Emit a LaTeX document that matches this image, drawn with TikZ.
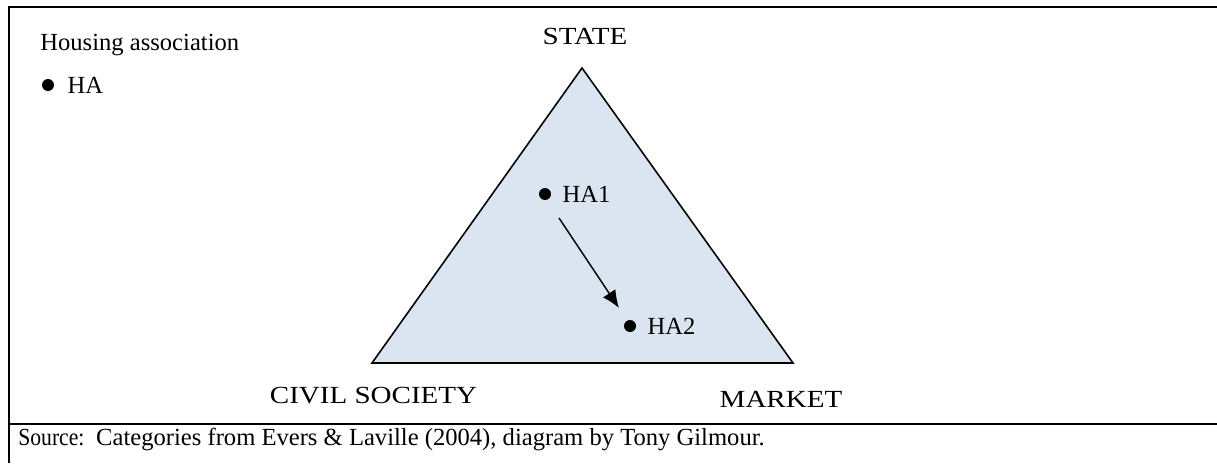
\documentclass[tikz,border=0pt]{standalone}
\usepackage{fontspec}
\setmainfont{Liberation Serif}
\newfontfamily\capsfont{Liberation Serif}[FakeStretch=1.18]
\newfontfamily\tagfont{Liberation Serif}[FakeStretch=0.88]
\usepackage{tikz}
\usetikzlibrary{positioning,arrows.meta,shapes}

\definecolor{triblue}{RGB}{219,229,241}

\tikzset{
    txt/.style={inner sep=0pt, font=\fontsize{14}{16}\selectfont},
    corner/.style={txt, font=\capsfont\fontsize{14}{16}\selectfont},
    tag/.style={txt, font=\tagfont\fontsize{14}{16}\selectfont},
    hadot/.style={circle, fill=black, inner sep=0pt, minimum size=0.24cm},
    frameline/.style={line width=1.4pt},
    flow/.style={line width=0.8pt, -{Latex[length=10pt,width=8.5pt]}}
}

\begin{document}
\begin{tikzpicture}
            \useasboundingbox (0,0) rectangle (24.34,9.26);
            \draw[frameline] (0.18,9.12) -- (24.34,9.12);
            \draw[frameline] (0.18,9.14) -- (0.18,0);
            \draw[frameline] (0.18,0.78) -- (24.34,0.78);
            \draw[fill=triblue, line width=0.9pt] (11.64,7.90) -- (7.44,2.00) -- (15.86,2.00) -- cycle;
            \node[corner, anchor=base] (state) at (11.70,8.36) {STATE};
            \node[corner, anchor=base] (civil) at (7.47,1.20) {CIVIL SOCIETY};
            \node[corner, anchor=base] (market) at (15.62,1.12) {MARKET};
            \node[txt, anchor=base west] (legend) at (0.80,8.24) {Housing association};
            \node[hadot] (ha) at (0.96,7.56) {};
            \node[txt, right=0.26cm of ha] (halabel) {HA};
            \node[hadot] (ha1) at (10.90,5.38) {};
            \node[txt, right=0.22cm of ha1] (ha1label) {HA1};
            \node[hadot] (ha2) at (12.60,2.74) {};
            \node[txt, right=0.22cm of ha2] (ha2label) {HA2};
            \coordinate (from) at ([shift={(0.28,-0.48)}]ha1.center);
            \coordinate (to) at ([shift={(-0.22,0.36)}]ha2.center);
            \draw[flow] (from) -- (to);
            \node[tag, anchor=base west] (source) at (0.36,0.36) {Source:};
            \node[txt, anchor=base west] (credit) at ([xshift=0.22cm]source.base east) {Categories from Evers \& Laville (2004), diagram by Tony Gilmour.};
        \end{tikzpicture}
\end{document}
